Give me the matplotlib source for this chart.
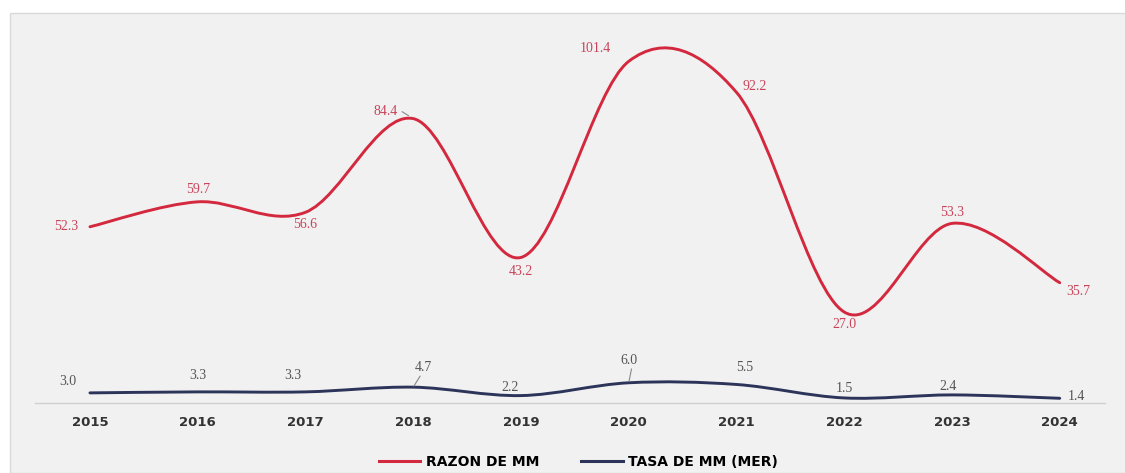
import numpy as np
from matplotlib import pyplot as plt
from matplotlib.path import Path
from matplotlib.patches import PathPatch, Rectangle
from matplotlib.lines import Line2D

years = ["2015", "2016", "2017", "2018", "2019", "2020", "2021", "2022", "2023", "2024"]
razon_mm = [52.3, 59.7, 56.6, 84.4, 43.2, 101.4, 92.2, 27.0, 53.3, 35.7]
tasa_mm = [3.0, 3.3, 3.3, 4.7, 2.2, 6.0, 5.5, 1.5, 2.4, 1.4]

RED = "#d3283d"
RED_TXT = "#c8445a"
NAVY = "#2c3459"
GRAY_TXT = "#555555"


def smooth_path(xs, ys):
    # catmull-rom style smoothing like the excel "smoothed line"
    pts = np.column_stack([xs, ys]).astype(float)
    ext = np.vstack([pts[0], pts, pts[-1]])
    verts = [tuple(pts[0])]
    codes = [Path.MOVETO]
    for i in range(len(pts) - 1):
        p0, p1, p2, p3 = ext[i], ext[i + 1], ext[i + 2], ext[i + 3]
        c1 = p1 + (p2 - p0) / 6.0
        c2 = p2 - (p3 - p1) / 6.0
        verts += [tuple(c1), tuple(c2), tuple(p2)]
        codes += [Path.CURVE4] * 3
    return Path(verts, codes)


fig = plt.figure(figsize=(11.25, 4.73), dpi=100)
fig.patch.set_facecolor("white")
bg = Rectangle((10 / 1125, 0), 1.0, 1 - 13 / 473, transform=fig.transFigure,
               facecolor="#f1f1f1", edgecolor="#d9d9d9", lw=1.0, zorder=-10)
fig.add_artist(bg)

ax = fig.add_axes([35 / 1125, 70 / 473, 1070 / 1125, 373 / 473])
ax.set_zorder(1)
ax.set_facecolor("none")
x = np.arange(len(years))
ax.set_xlim(-0.51, 9.42)
ax.set_ylim(0, 110.7)

ax.add_patch(PathPatch(smooth_path(x, razon_mm), facecolor="none", edgecolor=RED, lw=2.1,
                       capstyle="round", zorder=3))
ax.add_patch(PathPatch(smooth_path(x, tasa_mm), facecolor="none", edgecolor=NAVY, lw=2.1,
                       capstyle="round", zorder=3))

# label offsets in points (dx, dy)
red_off = [(-17, 0), (0, 9), (0, -9), (-20, 5), (0, -10), (-24, 9), (13, 4), (0, -9), (0, 8), (13, -6)]
blue_off = [(-16, 8), (0, 12), (-9, 12), (7, 14), (-8, 6), (0, 16), (6, 12), (0, 7), (-3, 6), (12, 1)]
leader = {3: "red", 5: "blue", 3.5: None}

for i, v in enumerate(razon_mm):
    ax.annotate(f"{v:.1f}", (x[i], v), xytext=red_off[i], textcoords="offset points",
                ha="center", va="center", fontsize=10, color=RED_TXT, family="Liberation Serif")
for i, v in enumerate(tasa_mm):
    ax.annotate(f"{v:.1f}", (x[i], v), xytext=blue_off[i], textcoords="offset points",
                ha="center", va="center", fontsize=10, color=GRAY_TXT, family="Liberation Serif")

# small leader marks next to a few labels
ax.annotate("", (x[3], razon_mm[3]), xytext=(-8, 5), textcoords="offset points",
            arrowprops=dict(arrowstyle="-", color="#888888", lw=0.8, shrinkA=0, shrinkB=4))
ax.annotate("", (x[3], tasa_mm[3]), xytext=(5, 8), textcoords="offset points",
            arrowprops=dict(arrowstyle="-", color="#888888", lw=0.8, shrinkA=0, shrinkB=1))
ax.annotate("", (x[5], tasa_mm[5]), xytext=(2, 10), textcoords="offset points",
            arrowprops=dict(arrowstyle="-", color="#888888", lw=0.8, shrinkA=0, shrinkB=1))

ax.set_xticks(x)
ax.set_xticklabels(years, fontsize=9.5, fontweight="bold", color="#333333")
ax.tick_params(axis="x", length=0, pad=9)
ax.set_yticks([])
for side in ["top", "right", "left"]:
    ax.spines[side].set_visible(False)
ax.spines["bottom"].set_color("#d0d0d0")
ax.spines["bottom"].set_linewidth(1.0)

handles = [Line2D([], [], color=RED, lw=2.2), Line2D([], [], color=NAVY, lw=2.2)]
fig.legend(handles, ["RAZON DE MM", "TASA DE MM (MER)"], loc="center", bbox_to_anchor=(0.514, 0.024),
           ncol=2, frameon=False, handlelength=3.0, columnspacing=3.0, handletextpad=0.4,
           prop={"weight": "bold", "size": 10})

plt.savefig("out.png", dpi=100)
